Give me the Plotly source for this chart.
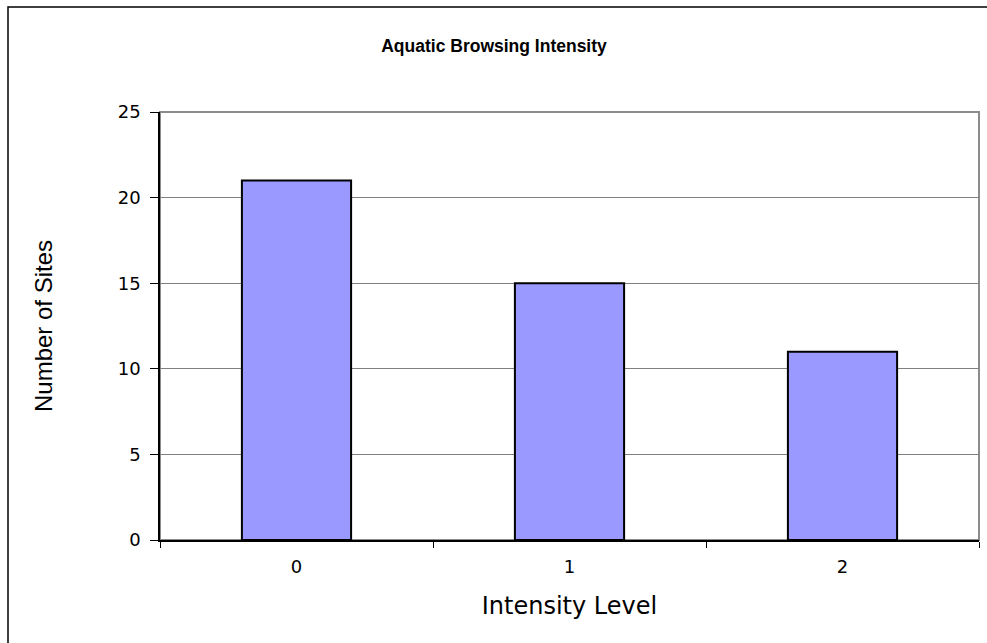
import plotly.graph_objects as go

# Site counts per aquatic browsing intensity level
levels = ["0", "1", "2"]
site_counts = [21, 15, 11]
y_ticks = [0, 5, 10, 15, 20, 25]

W, H = 987, 643
L, R, T, B = 160, 8, 112, 103
pw, ph = W - L - R, H - T - B

fig = go.Figure()
fig.add_trace(go.Bar(
    x=levels,
    y=site_counts,
    width=0.4,
    marker=dict(color="#9999FF", line=dict(color="#000000", width=2)),
    hoverinfo="x+y",
))

wide_font = "DejaVu Sans, Verdana, sans-serif"
narrow_font = "Liberation Sans, Arial, sans-serif"

fig.update_layout(
    width=W, height=H,
    margin=dict(l=L, r=R, t=T, b=B, pad=0),
    paper_bgcolor="white",
    plot_bgcolor="white",
    showlegend=False,
    font=dict(family=wide_font, color="#000000", size=18),
    title=dict(
        text="<b>Aquatic Browsing Intensity</b>",
        x=494 / W, xanchor="center",
        y=1 - 46 / H, yanchor="middle",
        font=dict(size=17.5, family=narrow_font, color="#000000"),
    ),
    xaxis=dict(
        type="category",
        tickson="boundaries",
        ticks="outside", ticklen=6, tickwidth=1, tickcolor="#000000",
        ticklabelstandoff=10,
        showline=True, linecolor="#000000", linewidth=1.5,
        showgrid=False, zeroline=False,
        tickfont=dict(size=18, family=wide_font),
        title=dict(text="Intensity Level",
                   font=dict(size=24, family=wide_font), standoff=21),
    ),
    yaxis=dict(
        range=[0, 25],
        tickvals=y_ticks,
        ticks="outside", ticklen=8, tickwidth=1, tickcolor="#000000",
        ticklabelstandoff=6,
        showline=True, linecolor="#000000", linewidth=1.5,
        showgrid=True, gridcolor="#808080", gridwidth=1,
        zeroline=False,
        tickfont=dict(size=18, family=wide_font),
        title=dict(text="Number of Sites",
                   font=dict(size=24, family=narrow_font), standoff=58),
    ),
    shapes=[
        # gray frame around the plotting area
        dict(type="rect", xref="paper", yref="paper", x0=0, y0=0, x1=1, y1=1,
             line=dict(color="#8c8c8c", width=2), fillcolor="rgba(0,0,0,0)",
             layer="below"),
        # outer chart border
        dict(type="rect", xref="paper", yref="paper",
             x0=(8 - L) / pw, x1=(W + 10 - L) / pw,
             y0=-(H + 10 - T - ph) / ph, y1=1 + (T - 7) / ph,
             line=dict(color="#000000", width=1.5), fillcolor="rgba(0,0,0,0)",
             layer="below"),
    ],
)

fig.write_html("out.html")
